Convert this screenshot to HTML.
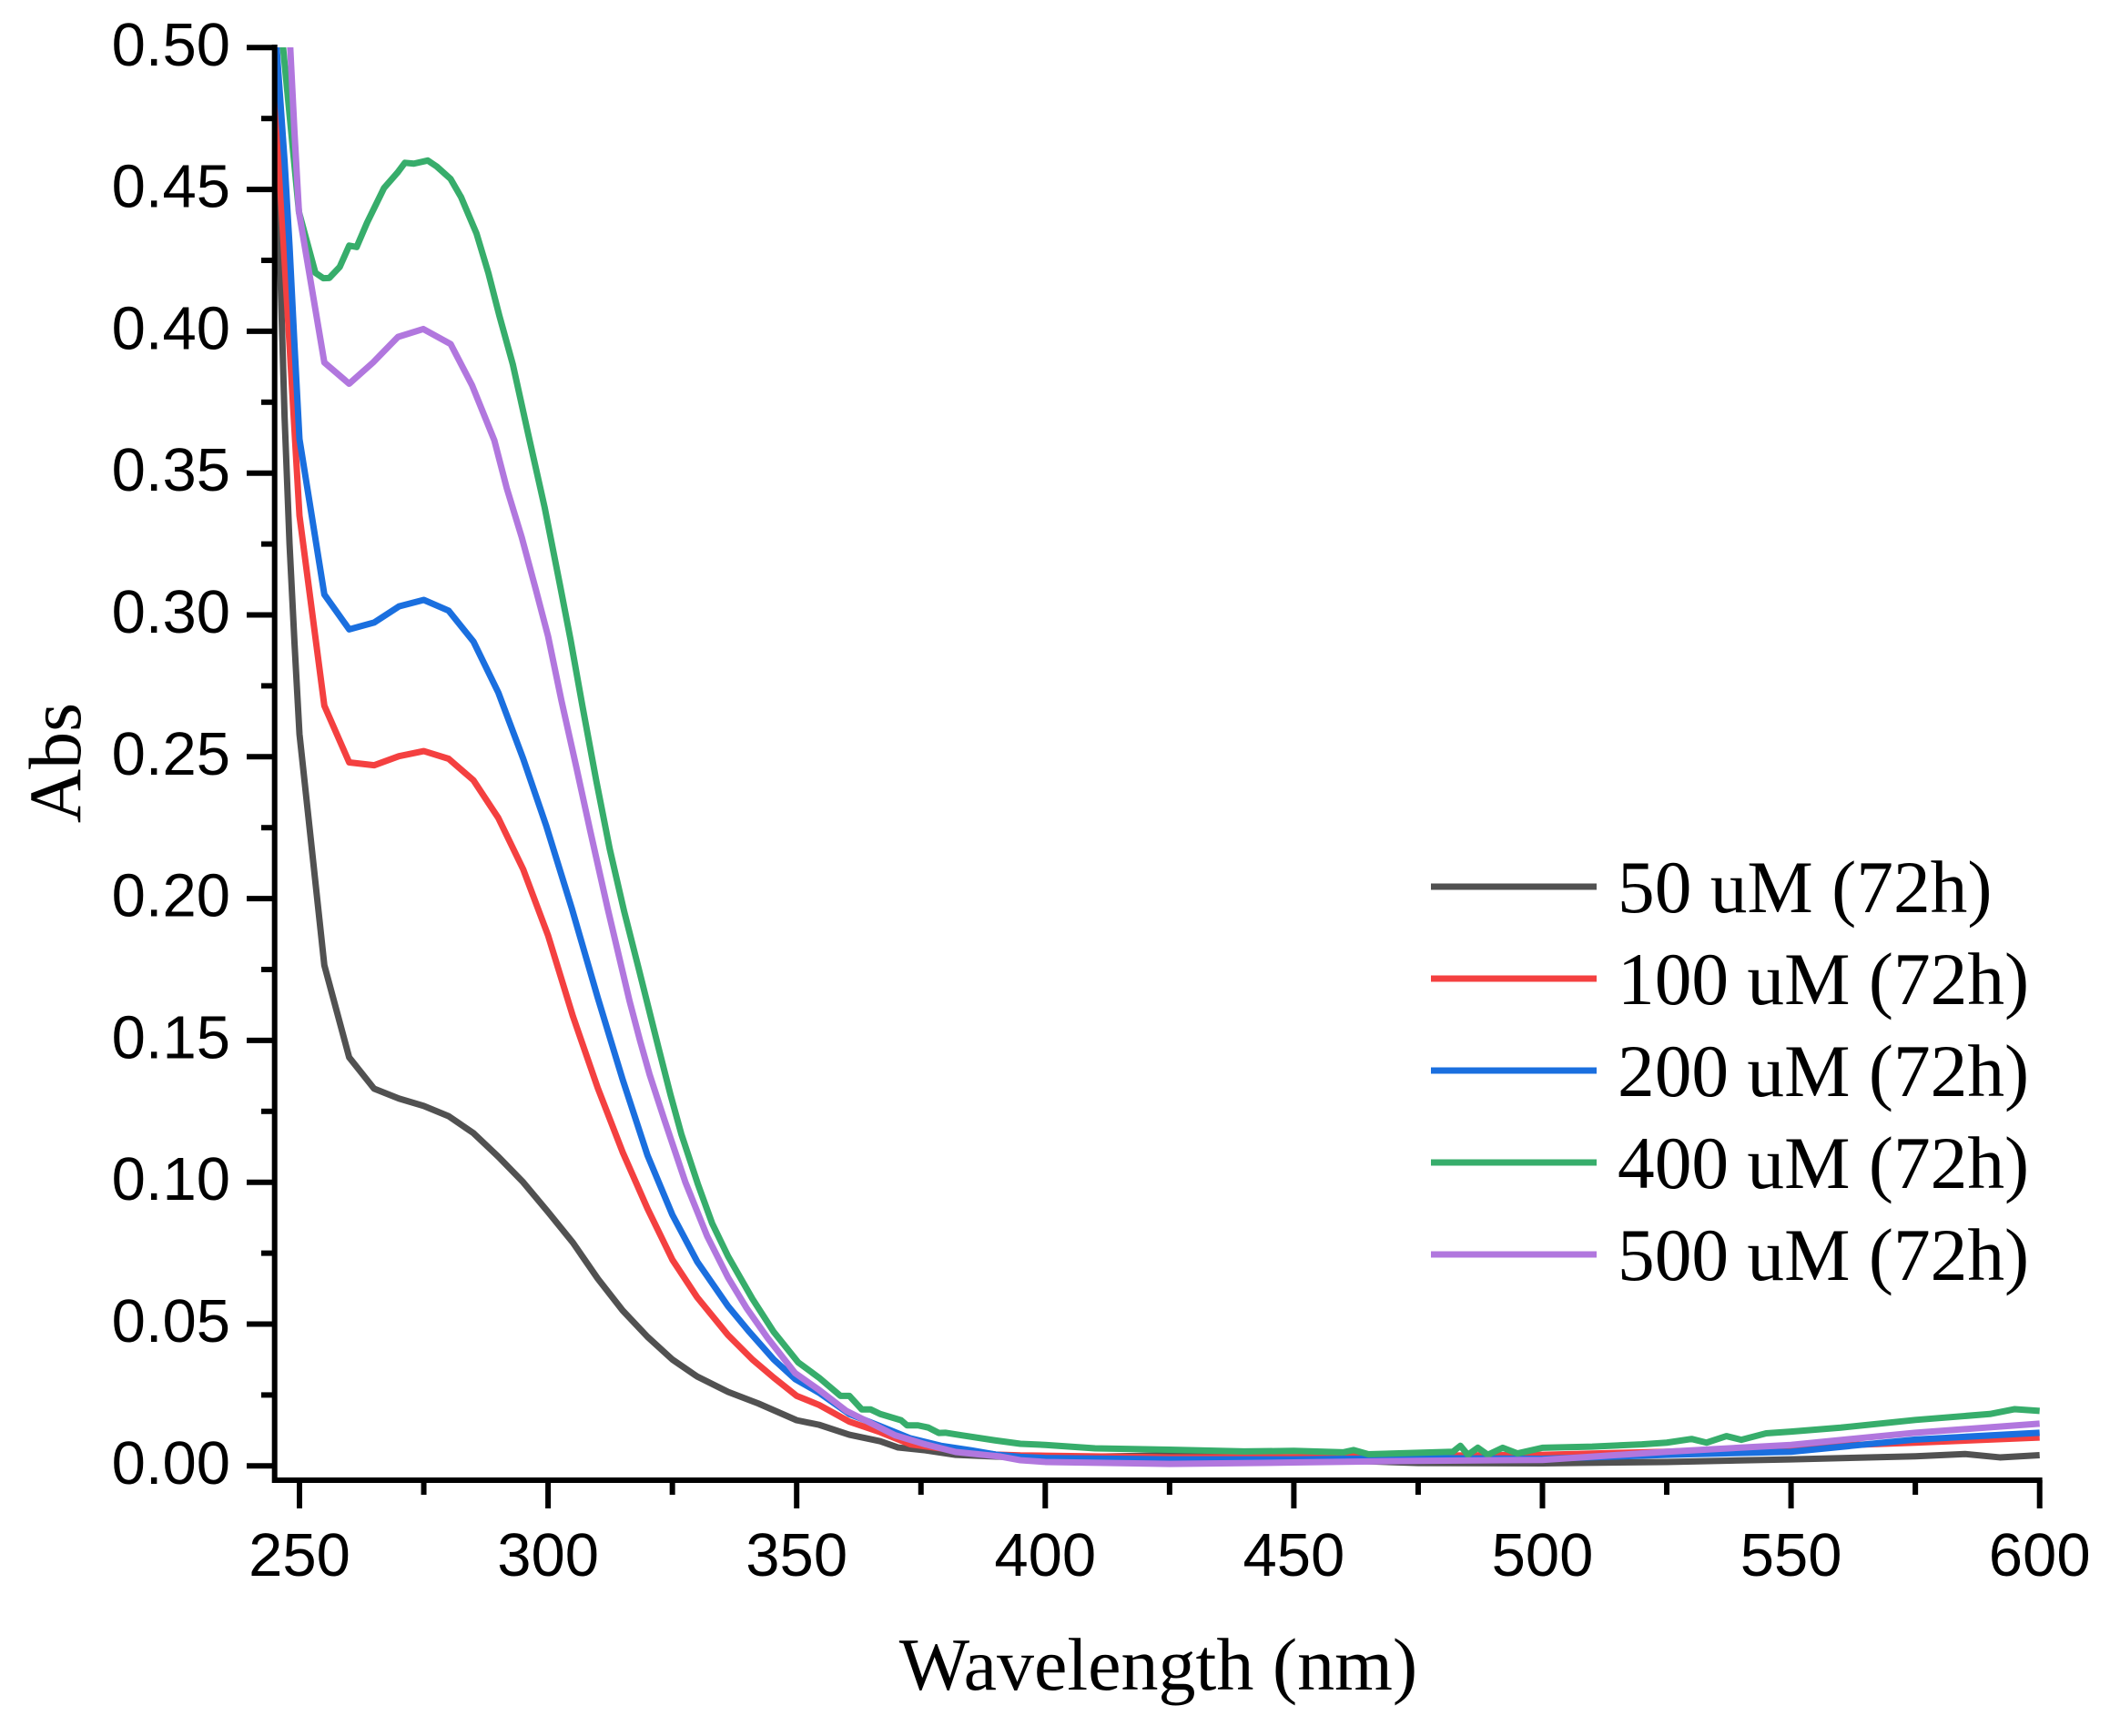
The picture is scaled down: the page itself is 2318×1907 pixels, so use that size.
<!DOCTYPE html>
<html lang="en">
<head>
<meta charset="utf-8">
<title>Absorbance spectra</title>
<style>
html,body{margin:0;padding:0;background:#fff;width:2318px;height:1907px;overflow:hidden}
svg{display:block}
.tick-label{font-family:"Liberation Sans",sans-serif;font-size:67px;fill:#000}
.legend-text{font-family:"Liberation Serif",serif;font-size:81.4px;fill:#000}
.axis-title{font-family:"Liberation Serif",serif;font-size:82px;fill:#000}
</style>
</head>
<body>
<svg id="chart" xmlns="http://www.w3.org/2000/svg" width="2318" height="1907" viewBox="0 0 2318 1907">
  <defs>
    <clipPath id="plot-clip"><rect x="299" y="52" width="1945" height="1574"/></clipPath>
  </defs>
  <g id="series-layer" clip-path="url(#plot-clip)"></g>
  <g id="axes-layer"></g>
  <text class="axis-title" x="1272.5" y="1856" text-anchor="middle">Wavelength (nm)</text>
  <text class="axis-title" transform="translate(88 838) rotate(-90)" text-anchor="middle">Abs</text>
  <g id="legend-layer"></g>
</svg>
<script>
const xTickLabels = ["250","300","350","400","450","500","550","600"];
const xMinorTicks = [275,325,375,425,475,525,575];
const yTickLabels = ["0.00","0.05","0.10","0.15","0.20","0.25","0.30","0.35","0.40","0.45","0.50"];
const yMinorTicks = [0.025,0.075,0.125,0.175,0.225,0.275,0.325,0.375,0.425,0.475];

const wl50 = [245,246,247,248,249,250,255,260,265,270,275,280,285,290,295,300,305,310,315,320,325,330,336.2,342.3,350,354.5,360.6,366.8,370.4,375.9,382,390,395,400,425,450,475,500,525,550,575,585,592,600];
const abs50 = [0.47,0.43,0.37,0.325,0.29,0.258,0.1765,0.144,0.133,0.1295,0.1269,0.1233,0.1173,0.109,0.100,0.0895,0.0787,0.066,0.0548,0.0455,0.0375,0.0315,0.0261,0.022,0.0161,0.0145,0.011,0.0087,0.0065,0.0055,0.0039,0.0033,0.003,0.003,0.0037,0.0025,0.001,0.0009,0.0014,0.0023,0.0034,0.0042,0.003,0.0038];

const wl100 = [245,246,247,248,249,250,255,260,265,270,275,280,285,290,295,300,305,310,315,320,325,330,336.2,341.1,345.4,350,354.5,360.6,366.8,372.9,379,385,390,395,400,425,450,475,500,525,550,575,600];
const abs100 = [0.485,0.455,0.425,0.395,0.365,0.335,0.268,0.248,0.247,0.2502,0.252,0.2493,0.2417,0.2284,0.2103,0.187,0.1585,0.1332,0.1106,0.0907,0.0727,0.0594,0.0461,0.0375,0.0311,0.0247,0.0215,0.0156,0.0119,0.0076,0.0062,0.0052,0.004,0.0037,0.0036,0.003,0.0031,0.0036,0.0039,0.005,0.0066,0.0082,0.01];

const wl200 = [245,246,247,248,249,250,255,260,265,270,275,280,285,290,295,299.6,304.8,310,315,320,325,330,336.2,340.5,345.4,349.7,354.5,360.6,366.8,372.9,379,385.1,390,395,400,425,450,475,500,525,550,575,600];
const abs200 = [0.51,0.485,0.46,0.43,0.395,0.362,0.3072,0.2949,0.2973,0.303,0.3053,0.3015,0.2906,0.2726,0.2493,0.2258,0.1964,0.165,0.1362,0.1095,0.0885,0.072,0.0563,0.0472,0.0375,0.0306,0.0258,0.0183,0.014,0.0097,0.0071,0.0055,0.004,0.0032,0.0028,0.0023,0.0023,0.0028,0.0025,0.0039,0.005,0.0093,0.0117];

const wl400 = [245,246.7,249.9,253.2,254.8,256,258.1,260,261.5,263.6,267,269.7,271.2,273,275.8,277.6,280.4,282.5,285.6,288,290.2,292.9,296,299.3,302.4,304.5,306.9,309.7,312.4,315.3,318.2,320.7,322.2,324.6,326.8,330.1,333,336.2,341.1,345.4,350.3,354.5,358.8,360.6,363.1,364.9,366.8,371,372.2,374.4,376.5,378.6,379.9,383.2,389.9,395,400,410,425,440,450,460,462,465,482,483.5,485,487,489,492,495,500,510,520,525,530,533,537,540,545,550,560,575,590,595,600];
const abs400 = [0.54,0.5,0.442,0.4206,0.4187,0.4188,0.4227,0.4302,0.4297,0.4383,0.4505,0.4559,0.4594,0.4591,0.4602,0.4581,0.4537,0.4473,0.4345,0.4205,0.4055,0.3884,0.3638,0.338,0.3105,0.2915,0.268,0.2415,0.2175,0.1955,0.1755,0.158,0.1475,0.131,0.117,0.0995,0.0855,0.0739,0.0589,0.0472,0.0365,0.0311,0.0247,0.0247,0.0199,0.0199,0.0183,0.0161,0.0143,0.0143,0.0135,0.0116,0.0117,0.0108,0.009,0.0078,0.0074,0.0062,0.0057,0.0051,0.0053,0.0048,0.0056,0.0041,0.005,0.0071,0.0039,0.0064,0.0039,0.0064,0.0044,0.0064,0.0068,0.0076,0.0082,0.0095,0.0082,0.0105,0.0092,0.0115,0.0121,0.0135,0.0162,0.0183,0.02,0.0194];

const wl500 = [248,249,249.9,255,260,264.8,269.8,274.9,280.4,284.7,289.2,291.7,294.7,297.5,300,302.7,305.7,308.5,312,316.4,318.5,320.4,323.4,327.6,332,336.2,339.9,344.2,349.7,354.5,360,364.9,369.8,375.9,382,391,395,400,425,450,475,500,525,550,575,600];
const abs500 = [0.505,0.47,0.442,0.389,0.3815,0.389,0.398,0.4008,0.3955,0.381,0.3615,0.3446,0.3274,0.3092,0.2925,0.2697,0.2462,0.2237,0.1964,0.1638,0.1499,0.1381,0.122,0.1001,0.081,0.0664,0.0557,0.045,0.0327,0.0268,0.0194,0.0151,0.0108,0.0076,0.0049,0.0033,0.002,0.0014,0.0007,0.0012,0.0018,0.0021,0.005,0.0074,0.0117,0.0149];

const seriesNames = ["50 uM (72h)","100 uM (72h)","200 uM (72h)","400 uM (72h)","500 uM (72h)"];
const seriesColors = ["#515151","#F44040","#1A6FDF","#37AD6B","#B177DE"];

const SVGNS = "http://www.w3.org/2000/svg";
const xScale = nm => 329 + (nm - 250) * 5.462;
const yScale = v => 1610.3 - v * 3116;

const axes = document.getElementById("axes-layer");
const seriesLayer = document.getElementById("series-layer");
const legend = document.getElementById("legend-layer");

function makeLine(x1, y1, x2, y2, color, width) {
  const l = document.createElementNS(SVGNS, "line");
  l.setAttribute("x1", x1);
  l.setAttribute("y1", y1);
  l.setAttribute("x2", x2);
  l.setAttribute("y2", y2);
  l.setAttribute("stroke", color);
  l.setAttribute("stroke-width", width);
  return l;
}

function makeSeries(wl, vals, idx, name) {
  const p = document.createElementNS(SVGNS, "polyline");
  p.setAttribute("points", wl.map((w, i) => xScale(w).toFixed(2) + "," + yScale(vals[i]).toFixed(2)).join(" "));
  p.setAttribute("fill", "none");
  p.setAttribute("stroke", seriesColors[idx]);
  p.setAttribute("stroke-width", "7");
  p.setAttribute("stroke-linejoin", "round");
  
  
  seriesLayer.appendChild(p);
}
makeSeries(wl50, abs50, 0, "series-50-um");
makeSeries(wl100, abs100, 1, "series-100-um");
makeSeries(wl200, abs200, 2, "series-200-um");
makeSeries(wl400, abs400, 3, "series-400-um");
makeSeries(wl500, abs500, 4, "series-500-um");

const leftSpine = makeLine(301.7, 49, 301.7, 1629, "#000", 6);


axes.appendChild(leftSpine);

const bottomSpine = makeLine(299, 1626, 2243.6, 1626, "#000", 6);


axes.appendChild(bottomSpine);

xTickLabels.forEach(lbl => {
  const x = xScale(Number(lbl));
  const t = makeLine(x, 1626, x, 1657, "#000", 6);
  
  
  axes.appendChild(t);
  const txt = document.createElementNS(SVGNS, "text");
  txt.setAttribute("class", "tick-label");
  txt.setAttribute("x", x);
  txt.setAttribute("y", 1731);
  txt.setAttribute("text-anchor", "middle");
  
  
  txt.textContent = lbl;
  axes.appendChild(txt);
});

xMinorTicks.forEach(v => {
  const x = xScale(v);
  const t = makeLine(x, 1626, x, 1642, "#000", 6);
  
  
  axes.appendChild(t);
});

yTickLabels.forEach(lbl => {
  const y = yScale(Number(lbl));
  const t = makeLine(271, y, 301, y, "#000", 6);
  
  
  axes.appendChild(t);
  const txt = document.createElementNS(SVGNS, "text");
  txt.setAttribute("class", "tick-label");
  txt.setAttribute("x", 253);
  txt.setAttribute("y", y + 19.5);
  txt.setAttribute("text-anchor", "end");
  
  
  txt.textContent = lbl;
  axes.appendChild(txt);
});

yMinorTicks.forEach(v => {
  const y = yScale(v);
  const t = makeLine(287, y, 301, y, "#000", 6);
  
  
  axes.appendChild(t);
});

seriesNames.forEach((name, i) => {
  const y = 974 + i * 101;
  const l = makeLine(1572, y, 1754, y, seriesColors[i], 7);
  
  
  legend.appendChild(l);
  const txt = document.createElementNS(SVGNS, "text");
  txt.setAttribute("class", "legend-text");
  txt.setAttribute("x", 1777);
  txt.setAttribute("y", y + 28);
  
  
  txt.textContent = name;
  legend.appendChild(txt);
});
</script>
</body>
</html>
